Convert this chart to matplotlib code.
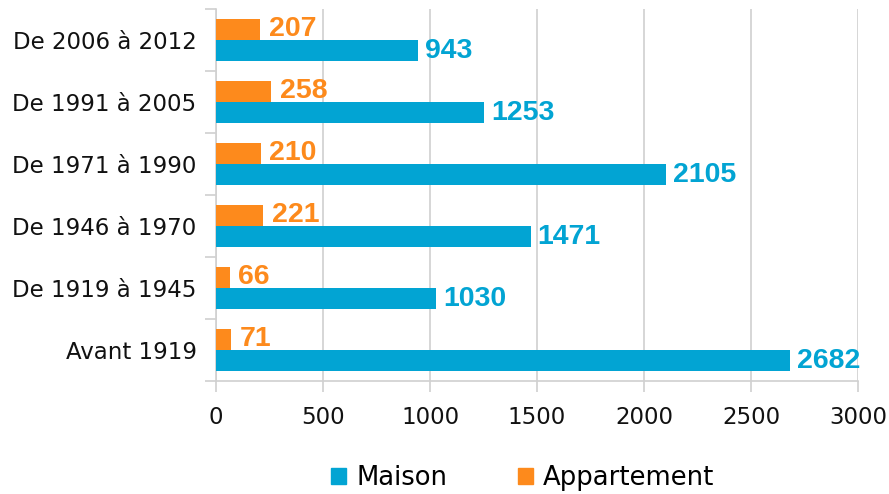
import matplotlib
matplotlib.use("Agg")
import matplotlib.pyplot as plt
from matplotlib.patches import Patch
import numpy as np

categories = ["Avant 1919", "De 1919 à 1945", "De 1946 à 1970", "De 1971 à 1990",
              "De 1991 à 2005", "De 2006 à 2012"]
maison = [2682, 1030, 1471, 2105, 1253, 943]
appartement = [71, 66, 221, 210, 258, 207]
xticks = [0, 500, 1000, 1500, 2000, 2500, 3000]

BLUE = "#02A4D3"
ORANGE = "#FD8A1C"
GRID = "#D0D0D0"

plt.rcParams['font.family'] = ['DejaVu Sans']

fig = plt.figure(figsize=(8.89, 4.94), dpi=100)
ax = fig.add_axes([216/889, 1-381/494, (858-216)/889, (381-9)/494])

y = np.arange(len(categories))
h = 0.34
ax.barh(y + h/2, appartement, height=h, color=ORANGE, zorder=3)
ax.barh(y - h/2, maison, height=h, color=BLUE, zorder=3)

lab_font = dict(family='Liberation Sans', weight='bold', fontsize=20.5)
for yi, v in zip(y, appartement):
    ax.annotate(str(v), (v, yi + h/2), xytext=(6, 0), textcoords='offset points',
                va='center', ha='left', color=ORANGE, **lab_font)
for yi, v in zip(y, maison):
    ax.annotate(str(v), (v, yi - h/2), xytext=(5, 0), textcoords='offset points',
                va='center', ha='left', color=BLUE, **lab_font)

ax.set_xlim(0, 3000)
ax.set_ylim(-0.5, len(categories) - 0.5)
ax.set_xticks(xticks)
ax.set_xticklabels([str(t) for t in xticks])
ax.set_yticks(y)
ax.set_yticklabels(categories)
ax.set_yticks(np.arange(-0.5, len(categories)), minor=True)

ax.tick_params(axis='y', which='major', length=0, pad=14, labelsize=16.5, labelcolor='#111111')
ax.tick_params(axis='y', which='minor', length=8, width=1.2, color=GRID, direction='out')
ax.tick_params(axis='x', which='major', length=8, width=1.2, color=GRID, direction='out',
               pad=10, labelsize=16.5, labelcolor='#111111')

ax.grid(axis='x', color=GRID, linewidth=1.2, zorder=0)
for s in ['top', 'right']:
    ax.spines[s].set_visible(False)
for s in ['left', 'bottom']:
    ax.spines[s].set_color(GRID)
    ax.spines[s].set_linewidth(1.2)

handles = [Patch(color=BLUE, label='Maison'), Patch(color=ORANGE, label='Appartement')]
fig.legend(handles=handles, loc='center', bbox_to_anchor=(0.588, 0.032), ncol=2,
           frameon=False, fontsize=18.6, handlelength=0.58, handleheight=0.58,
           handletextpad=0.39, columnspacing=2.75, borderaxespad=0, borderpad=0)

fig.savefig("out.png", dpi=100)
